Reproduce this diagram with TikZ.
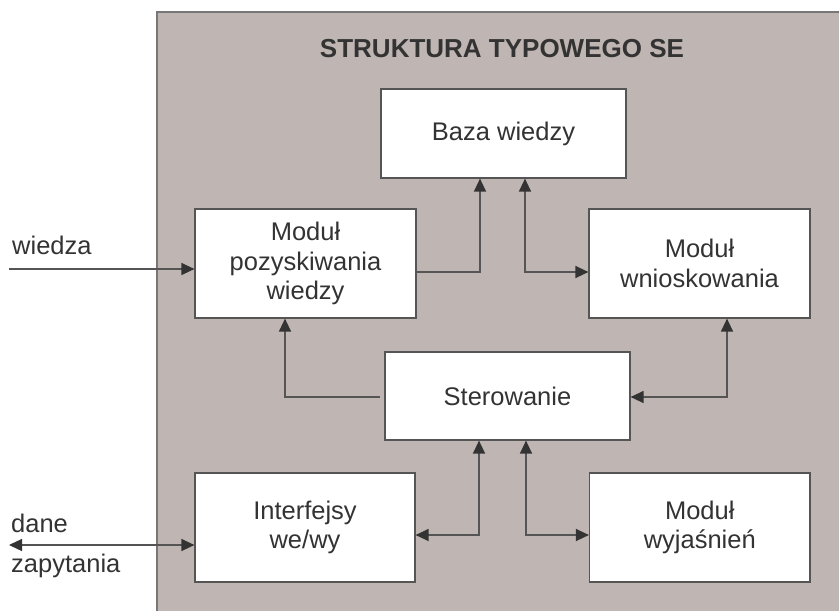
\documentclass[tikz,border=0pt]{standalone}
\usepackage{fontspec}
\setmainfont{Liberation Sans}
\usetikzlibrary{arrows.meta}
\definecolor{bggray}{HTML}{BFB5B2}
\definecolor{framegray}{HTML}{777777}
\definecolor{linegray}{HTML}{555555}
\definecolor{txt}{HTML}{333333}
\begin{document}
\begin{tikzpicture}[x=1pt,y=-1pt,
  box/.style={draw=linegray,line width=1.2pt,fill=white,inner sep=0pt,
    align=center,text=txt,font=\fontsize{25.5}{29.7}\selectfont},
  conn/.style={draw=linegray,line width=1.3pt},
  tip/.tip={Triangle[length=13pt,width=12pt,fill=txt,color=txt]},
  lbl/.style={anchor=base west,inner sep=0pt,text=txt,font=\fontsize{25.5}{29.7}\selectfont}]
\useasboundingbox (0,0) rectangle (839,611);
\path[fill=bggray,draw=framegray,line width=1.5pt] (157,12) rectangle (860,640);
\node[anchor=base,inner sep=0pt,text=txt,font=\fontsize{26}{30}\selectfont\bfseries] (title) at (502,57) {STRUKTURA TYPOWEGO SE};
\node[box,minimum width=245pt,minimum height=89pt] (baza) at (503.5,133.5) {Baza wiedzy};
\node[box,minimum width=221pt,minimum height=109pt] (poz) at (305.5,263.5) {Moduł\\pozyskiwania\\wiedzy};
\node[box,minimum width=221pt,minimum height=109pt] (wnio) at (699.5,263.5) {Moduł\\wnioskowania};
\node[box,minimum width=245pt,minimum height=88pt] (ster) at (507.5,396) {Sterowanie};
\node[box,minimum width=220pt,minimum height=109pt] (inter) at (305,527.5) {Interfejsy\\we/wy};
\node[box,minimum width=220.5pt,minimum height=109pt] (wyj) at (699.75,527.5) {Moduł\\wyjaśnień};
\node[lbl] (lwiedza) at (12,254) {wiedza};
\node[lbl] (ldane) at (11,532) {dane};
\node[lbl] (lzap) at (11,572) {zapytania};
\coordinate (wz) at (9,269);
\coordinate (dz) at (9,545);
\coordinate (j1) at (480,272);
\coordinate (j2) at (525,272);
\coordinate (j3) at (285,397);
\coordinate (j4) at (727,397);
\coordinate (j5) at (479,535);
\coordinate (j6) at (526,535);
\draw[conn,-tip] (wz) -- (wz -| poz.west);
\draw[conn,-tip] (j1 -| poz.east) -- (j1) -- (j1 |- baza.south);
\draw[conn,tip-tip] (j2 |- baza.south) -- (j2) -- (j2 -| wnio.west);
\draw[conn,-tip] ([xshift=-4pt]j3 -| ster.west) -- (j3) -- (j3 |- poz.south);
\draw[conn,tip-tip] (j4 -| ster.east) -- (j4) -- (j4 |- wnio.south);
\draw[conn,tip-tip] (j5 |- ster.south) -- (j5) -- (j5 -| inter.east);
\draw[conn,tip-tip] (j6 |- ster.south) -- (j6) -- (j6 -| wyj.west);
\draw[conn,tip-tip] (dz) -- (dz -| inter.west);
\end{tikzpicture}
\end{document}
